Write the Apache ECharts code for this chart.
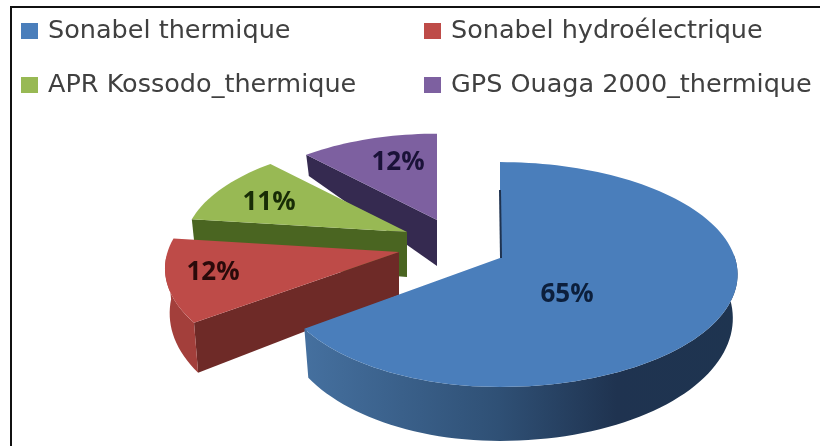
<!DOCTYPE html>
<html><head><meta charset="utf-8">
<style>html,body{margin:0;padding:0;background:#fff}#c{width:820px;height:446px;filter:blur(0.6px)}</style>
<script src="https://cdn.jsdelivr.net/npm/echarts@6/dist/echarts.min.js"></script>
</head><body><div id="c"></div>
<script>
const categories = ['Sonabel thermique','Sonabel hydroélectrique','APR Kossodo_thermique','GPS Ouaga 2000_thermique'];
const shares = [65,12,11,12];
const labels = ['65%','12%','11%','12%'];
const topColors = ['#4a7ebb','#be4b48','#98b954','#7d60a0'];

const chart = echarts.init(document.getElementById('c'));
const RX=235, RY=110, K=0.147;
const slices = [
 {apex:[500,258],scale:1,   left:.94, base:42,slope:12,wall:[88,234],wallFill:{type:'linear',x:0,y:0,x2:1,y2:0,colorStops:[{offset:0,color:'#45709f'},{offset:.45,color:'#2f5075'},{offset:.72,color:'#1f3350'},{offset:1,color:'#1e3450'}]},side:null,label:[567,295],labelColor:'#0c1f3c',z:8},
 {apex:[399,252],scale:1,   left:.985,base:43,slope:12,wall:[234,268],wallFill:'#a33f3b',side:'#6e2a27',label:[213,273],labelColor:'#2a0a0a',z:6},
 {apex:[407,232],scale:.94, left:1,  base:45,slope:34,wall:null,side:'#4a6521',label:[269,203],labelColor:'#182c06',z:4},
 {apex:[437,220],scale:.9,  left:1,  base:46,slope:34,wall:null,side:'#352a50',label:[398,163],labelColor:'#1a1238',z:2}
];
function plane(deg){const t=deg*Math.PI/180;return [Math.sin(t),-Math.cos(t)];}
function project(sl,deg){const p=plane(deg);const s=1/(1-K*p[1]);const xs=p[0]<0?sl.left:1;return [sl.apex[0]+RX*sl.scale*xs*p[0]*s, sl.apex[1]+RY*sl.scale*p[1]*s, p[1]];}
function lower(sl,pt,Y){const d=sl.base+sl.slope*Y;return [sl.apex[0]+(pt[0]-sl.apex[0])*.98, pt[1]+d];}
function arc(sl,a,b){const n=Math.max(2,Math.ceil(Math.abs(b-a)/2));const r=[];for(let i=0;i<=n;i++)r.push(project(sl,a+(b-a)*i/n));return r;}

const total = shares.reduce((a,b)=>a+b,0);
function startOf(i){let s=0;for(let j=0;j<i;j++)s+=shares[j];return s/total*360;}

function renderSlice(i){
  return function(){
    const sl=slices[i],a=startOf(i),b=a+shares[i]/total*360;
    const kids=[];
    const edge=arc(sl,a,b);
    if(sl.side){
      const p=project(sl,a);
      kids.push({type:'polygon',shape:{points:[sl.apex,[p[0],p[1]],lower(sl,p,p[2]),lower(sl,sl.apex,0)]},style:{fill:sl.side}});
    }
    if(sl.wall){
      const w=arc(sl,sl.wall[0],sl.wall[1]);
      const pts=w.map(p=>[p[0],p[1]]).concat(w.slice().reverse().map(p=>lower(sl,p,p[2])));
      kids.push({type:'polygon',shape:{points:pts},style:{fill:sl.wallFill}});
    }
    kids.push({type:'polygon',shape:{points:[sl.apex].concat(edge.map(p=>[p[0],p[1]]))},style:{fill:topColors[i]}});
    if(i===0){kids.push({type:'line',shape:{x1:500,y1:190,x2:501,y2:258},style:{stroke:'#1f3350',lineWidth:2}});}
    kids.push({type:'text',style:{text:labels[i],x:sl.label[0],y:sl.label[1],align:'center',verticalAlign:'middle',font:'bold 26px "Open Sans"',fill:sl.labelColor}});
    return {type:'group',children:kids};
  };
}
const legendPos=[[21,18],[424,18],[21,72],[424,72]];
chart.setOption({
  animation:false,
  backgroundColor:'#fff',
  graphic:[{type:'polyline',shape:{points:[[11,446],[11,7],[820,7]]},style:{stroke:'#111',lineWidth:2,fill:null}}],
  legend:categories.map((c,i)=>({data:[c],left:legendPos[i][0],top:legendPos[i][1],padding:0,itemWidth:17,itemHeight:16,itemGap:0,icon:'rect',
    textStyle:{fontFamily:'DejaVu Sans',fontSize:25.5,color:'#404040',padding:[0,0,0,5]}})),
  series:categories.map((c,i)=>({type:'custom',name:c,coordinateSystem:'none',z:slices[i].z,data:[shares[i]],silent:true,
    itemStyle:{color:topColors[i]},renderItem:renderSlice(i)}))
});
</script></body></html>
